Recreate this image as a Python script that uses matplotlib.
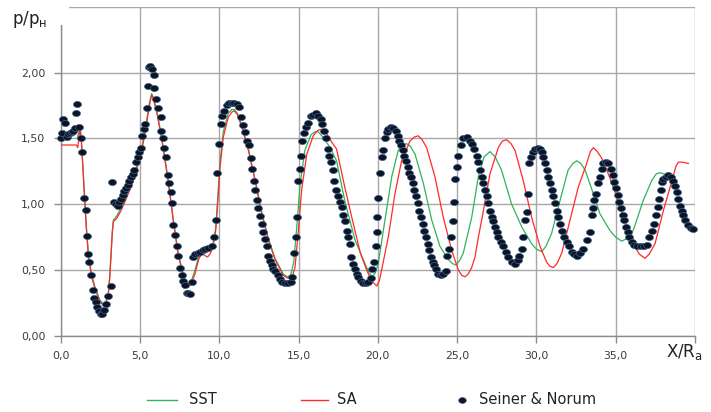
import matplotlib
matplotlib.use("Agg")
import matplotlib.pyplot as plt
from matplotlib.lines import Line2D
from matplotlib.patches import Rectangle
from matplotlib.markers import MarkerStyle
from matplotlib.transforms import Affine2D

# ---------------- data ----------------
SST_X = [1.05, 1.15, 1.22, 1.3, 1.4, 1.5, 1.62, 1.75, 1.95, 2.17, 2.45, 2.69, 2.85, 3.0, 3.1, 3.18,
         3.26, 3.33, 3.53, 3.8, 4.06, 4.4, 4.69, 5.11, 5.43, 5.6, 5.74, 5.85, 6.06, 6.37, 6.79,
         7.11, 7.42, 7.74, 7.9, 8.05, 8.2, 8.47, 8.7, 8.9, 9.1, 9.3, 9.53, 9.65, 9.78, 9.9, 10.05,
         10.26, 10.57, 10.8, 10.95, 11.15, 11.42, 11.84, 12.26, 12.68, 13.1, 13.52, 14.04, 14.3,
         14.5, 14.7, 14.9, 15.1, 15.4, 15.8, 16.05, 16.25, 16.6, 17.0, 17.4, 17.93, 18.56, 19.19,
         19.45, 19.66, 19.85, 20.03, 20.45, 20.88, 21.29, 21.55, 21.82, 22.05, 22.35, 22.87, 23.4,
         23.92, 24.45, 24.7, 24.9, 25.15, 25.39, 25.92, 26.34, 26.7, 27.07, 27.4, 27.8, 28.44,
         29.07, 29.7, 30.0, 30.33, 30.6, 30.96, 31.6, 32.0, 32.3, 32.54, 32.8, 33.07, 33.59, 34.0,
         34.64, 35.0, 35.38, 35.7, 36.1, 36.74, 37.27, 37.55, 37.79, 38.05, 38.32, 38.6]
SST_Y = [1.50, 1.55, 1.59, 1.51, 1.30, 1.09, 0.84, 0.63, 0.47, 0.37, 0.28, 0.24, 0.26, 0.31, 0.45, 0.62,
         0.80, 0.88, 0.91, 0.97, 1.04, 1.14, 1.24, 1.42, 1.64, 1.77, 1.84, 1.81, 1.71, 1.51, 1.18,
         0.88, 0.62, 0.47, 0.41, 0.38, 0.40, 0.50, 0.60, 0.64, 0.65, 0.66, 0.67, 0.72, 0.82, 1.03, 1.32,
         1.55, 1.69, 1.72, 1.72, 1.69, 1.60, 1.42, 1.19, 0.94, 0.74, 0.59, 0.47, 0.45,
         0.46, 0.56, 0.84, 1.15, 1.41, 1.53, 1.55, 1.55, 1.50, 1.43, 1.33, 1.02, 0.73, 0.55,
         0.48, 0.45, 0.48, 0.55, 0.88, 1.21, 1.41, 1.45, 1.46, 1.44, 1.38, 1.16, 0.88,
         0.68, 0.58, 0.55, 0.54, 0.57, 0.63, 0.90, 1.21, 1.36, 1.40, 1.36, 1.26, 1.00,
         0.83, 0.70, 0.66, 0.64, 0.68, 0.78, 1.08, 1.26, 1.31, 1.33, 1.31, 1.26, 1.08, 0.93,
         0.80, 0.75, 0.72, 0.74, 0.80, 1.03, 1.18, 1.23, 1.24, 1.23, 1.21, 1.20]

SA_X = [0.0, 0.5, 1.0, 1.08, 1.15, 1.22, 1.3, 1.4, 1.5, 1.62, 1.75, 1.95, 2.17, 2.45, 2.69, 2.85, 3.0,
        3.1, 3.18, 3.26, 3.33, 3.53, 3.8, 4.06, 4.4, 4.69, 5.11, 5.43, 5.6, 5.74, 5.85, 6.06, 6.37,
        6.79, 7.11, 7.42, 7.74, 7.9, 8.05, 8.2, 8.47, 8.7, 8.9, 9.1, 9.27, 9.4, 9.53, 9.65, 9.78,
        9.9, 10.05, 10.26, 10.57, 10.8, 10.95, 11.15, 11.42, 11.84, 12.26, 12.68, 13.1, 13.52,
        14.04, 14.3, 14.57, 14.78, 14.99, 15.2, 15.52, 15.93, 16.2, 16.46, 16.75, 17.05, 17.4,
        17.9, 18.4, 18.9, 19.3, 19.6, 19.93, 20.1, 20.24, 20.66, 21.08, 21.5, 22.03, 22.3, 22.55,
        22.8, 23.08, 23.6, 24.13, 24.66, 25.08, 25.3, 25.5, 25.7, 25.92, 26.13, 26.34, 26.55,
        27.07, 27.6, 27.85, 28.13, 28.4, 28.65, 29.17, 29.7, 30.23, 30.65, 30.85, 31.07, 31.3,
        31.6, 32.12, 32.64, 33.17, 33.4, 33.59, 33.85, 34.22, 34.85, 35.48, 36.1, 36.5, 36.85,
        37.1, 37.48, 38.0, 38.55, 38.8, 38.95, 39.2, 39.58]
SA_Y = [1.45, 1.45, 1.45, 1.43, 1.50, 1.58, 1.50, 1.28, 1.07, 0.82, 0.61, 0.45, 0.36, 0.27, 0.23, 0.25, 0.31,
        0.45, 0.61, 0.78, 0.87, 0.89, 0.95, 1.02, 1.12, 1.22, 1.40, 1.62, 1.75, 1.83, 1.80, 1.70, 1.50,
        1.17, 0.87, 0.61, 0.46, 0.40, 0.37, 0.39, 0.47, 0.58, 0.63, 0.61, 0.60, 0.62, 0.65, 0.71, 0.80,
        1.00, 1.28, 1.51, 1.66, 1.70, 1.71, 1.68, 1.59, 1.41, 1.18, 0.93, 0.73, 0.58,
        0.46, 0.44, 0.44, 0.52, 0.80, 1.11, 1.38, 1.52, 1.56, 1.57, 1.54, 1.48, 1.42,
        1.14, 0.88, 0.63, 0.50, 0.42, 0.38, 0.42, 0.50, 0.75, 1.08, 1.33, 1.48, 1.51, 1.52,
        1.49, 1.43, 1.21, 0.90, 0.65, 0.50, 0.46, 0.45, 0.47, 0.52, 0.60, 0.75, 0.88,
        1.23, 1.43, 1.48, 1.49, 1.46, 1.41, 1.18, 0.90, 0.68, 0.56, 0.53, 0.52, 0.55,
        0.63, 0.88, 1.13, 1.31, 1.40, 1.43, 1.40, 1.33, 1.13, 0.90, 0.70, 0.62, 0.59,
        0.62, 0.70, 0.95, 1.18, 1.29, 1.32, 1.32, 1.31]

EXP_X = [0.0, 0.07, 0.17, 0.30, 0.38, 0.47, 0.58, 0.70, 0.80, 0.90, 0.97, 1.04, 1.16, 1.28, 1.34,
         1.48, 1.57, 1.65, 1.73, 1.79, 1.90, 2.02, 2.12, 2.21, 2.31, 2.42, 2.52, 2.62, 2.76, 2.86,
         3.01, 3.16, 3.26, 3.37, 3.47, 3.60, 3.70, 3.81, 3.92, 4.02, 4.12, 4.23, 4.31, 4.44, 4.55,
         4.63, 4.75, 4.86, 4.96, 5.07, 5.15, 5.26, 5.32, 5.43, 5.49, 5.57, 5.66, 5.74, 5.87, 5.91,
         6.02, 6.16, 6.31, 6.33, 6.44, 6.54, 6.65, 6.75, 6.86, 6.94, 7.05, 7.11, 7.21, 7.32, 7.42,
         7.53, 7.64, 7.74, 7.84, 7.95, 8.05, 8.16, 8.27, 8.37, 8.47, 8.64, 8.80, 8.95, 9.10, 9.31,
         9.53, 9.69, 9.80, 9.88, 9.99, 10.11, 10.20, 10.32, 10.47, 10.64, 10.79, 10.95, 11.10,
         11.25, 11.37, 11.48, 11.63, 11.77, 11.88, 12.00, 12.09, 12.21, 12.26, 12.36, 12.47,
         12.57, 12.68, 12.78, 12.89, 12.99, 13.10, 13.20, 13.31, 13.41, 13.52, 13.69, 13.83,
         13.98, 14.15, 14.36, 14.53, 14.61, 14.72, 14.82, 14.88, 14.99, 15.09, 15.16, 15.24,
         15.37, 15.47, 15.62, 15.77, 15.93, 16.08, 16.25, 16.40, 16.50, 16.63, 16.73, 16.84,
         16.94, 17.05, 17.16, 17.26, 17.36, 17.47, 17.62, 17.72, 17.83, 17.93, 18.04, 18.14,
         18.25, 18.31, 18.46, 18.56, 18.67, 18.77, 18.94, 19.09, 19.24, 19.40, 19.57, 19.65,
         19.78, 19.87, 19.93, 19.97, 20.03, 20.14, 20.25, 20.35, 20.45, 20.56, 20.66, 20.81,
         20.98, 21.13, 21.25, 21.36, 21.46, 21.57, 21.67, 21.78, 21.88, 21.99, 22.09, 22.20,
         22.30, 22.41, 22.52, 22.62, 22.72, 22.83, 22.93, 23.04, 23.15, 23.25, 23.35, 23.46,
         23.56, 23.67, 23.82, 23.98, 24.13, 24.30, 24.34, 24.51, 24.60, 24.72, 24.80, 24.87,
         24.97, 25.08, 25.23, 25.39, 25.60, 25.81, 25.96, 26.08, 26.24, 26.34, 26.44, 26.55,
         26.65, 26.76, 26.87, 26.97, 27.07, 27.18, 27.28, 27.39, 27.50, 27.60, 27.77, 27.91,
         28.06, 28.23, 28.44, 28.65, 28.82, 28.92, 29.07, 29.17, 29.28, 29.39, 29.45, 29.55,
         29.66, 29.77, 29.91, 30.08, 30.23, 30.34, 30.44, 30.55, 30.65, 30.75, 30.86, 30.96,
         31.07, 31.17, 31.28, 31.38, 31.49, 31.63, 31.76, 31.91, 32.06, 32.23, 32.39, 32.54,
         32.75, 32.96, 33.17, 33.38, 33.49, 33.55, 33.63, 33.76, 33.91, 34.01, 34.12, 34.22,
         34.38, 34.53, 34.68, 34.81, 34.91, 35.02, 35.13, 35.23, 35.34, 35.44, 35.54, 35.65,
         35.76, 35.86, 36.01, 36.17, 36.36, 36.58, 36.78, 36.99, 37.12, 37.27, 37.41, 37.54,
         37.65, 37.73, 37.84, 37.90, 38.00, 38.17, 38.32, 38.49, 38.63, 38.74, 38.85, 38.95,
         39.06, 39.17, 39.27, 39.38, 39.53, 39.73, 39.90]
EXP_Y = [1.50, 1.54, 1.65, 1.62, 1.51, 1.53, 1.54, 1.55, 1.56, 1.58, 1.69, 1.76, 1.59, 1.50, 1.40,
         1.05, 0.96, 0.76, 0.62, 0.56, 0.46, 0.35, 0.29, 0.26, 0.22, 0.19, 0.17, 0.17, 0.20, 0.24,
         0.30, 0.38, 1.17, 1.02, 1.00, 0.99, 1.02, 1.04, 1.07, 1.10, 1.12, 1.15, 1.18, 1.21, 1.23,
         1.26, 1.32, 1.36, 1.40, 1.43, 1.52, 1.57, 1.61, 1.73, 1.90, 2.04, 2.05, 2.03, 1.98, 1.88,
         1.80, 1.73, 1.66, 1.56, 1.50, 1.43, 1.36, 1.22, 1.16, 1.09, 1.01, 0.84, 0.77, 0.68, 0.61,
         0.52, 0.46, 0.42, 0.39, 0.33, 0.33, 0.32, 0.41, 0.60, 0.62, 0.63, 0.64, 0.65, 0.66, 0.67,
         0.68, 0.75, 0.88, 1.24, 1.46, 1.61, 1.67, 1.71, 1.75, 1.77, 1.77, 1.77, 1.76,
         1.74, 1.66, 1.60, 1.55, 1.48, 1.45, 1.35, 1.27, 1.18, 1.11, 1.03, 0.97,
         0.91, 0.85, 0.79, 0.74, 0.68, 0.61, 0.57, 0.54, 0.51, 0.49, 0.46, 0.43,
         0.41, 0.40, 0.40, 0.41, 0.45, 0.63, 0.75, 0.90, 1.18, 1.27, 1.37, 1.48,
         1.54, 1.59, 1.62, 1.67, 1.68, 1.69, 1.67, 1.65, 1.61, 1.56, 1.50, 1.42,
         1.37, 1.32, 1.26, 1.18, 1.11, 1.06, 1.02, 0.98, 0.92, 0.87, 0.80, 0.75,
         0.70, 0.60, 0.55, 0.51, 0.47, 0.45, 0.42, 0.40, 0.40, 0.41, 0.44, 0.51,
         0.56, 0.68, 0.79, 0.90, 1.05, 1.24, 1.36, 1.41, 1.50, 1.55, 1.57, 1.59,
         1.58, 1.56, 1.52, 1.48, 1.45, 1.41, 1.37, 1.33, 1.28, 1.24, 1.21, 1.16,
         1.11, 1.06, 1.01, 0.95, 0.90, 0.85, 0.80, 0.75, 0.70, 0.65, 0.60, 0.56,
         0.54, 0.51, 0.47, 0.46, 0.47, 0.49, 0.61, 0.66, 0.75, 0.87, 1.02, 1.19,
         1.28, 1.37, 1.45, 1.50, 1.51, 1.48, 1.46, 1.42, 1.37, 1.32, 1.26, 1.21,
         1.16, 1.11, 1.06, 1.01, 0.95, 0.90, 0.87, 0.83, 0.79, 0.75, 0.71, 0.68,
         0.64, 0.60, 0.56, 0.55, 0.58, 0.61, 0.66, 0.75, 0.88, 0.94, 1.08, 1.31,
         1.36, 1.40, 1.42, 1.43, 1.42, 1.40, 1.36, 1.31, 1.26, 1.21, 1.16, 1.11,
         1.06, 1.01, 0.95, 0.90, 0.85, 0.80, 0.75, 0.71, 0.68, 0.64, 0.62, 0.61,
         0.63, 0.66, 0.73, 0.79, 0.92, 0.97, 1.03, 1.08, 1.16, 1.21, 1.27, 1.31,
         1.32, 1.31, 1.27, 1.22, 1.17, 1.12, 1.07, 1.02, 0.97, 0.92, 0.88, 0.83,
         0.79, 0.75, 0.71, 0.69, 0.68, 0.68, 0.68, 0.69, 0.75, 0.80, 0.85, 0.92,
         0.98, 1.04, 1.11, 1.17, 1.19, 1.21, 1.22, 1.21, 1.18, 1.14, 1.09, 1.04,
         0.99, 0.95, 0.92, 0.88, 0.84, 0.82, 0.81]

X_TICKS = [0, 5, 10, 15, 20, 25, 30, 35, 40]
X_TICK_LABELS = ["0,0", "5,0", "10,0", "15,0", "20,0", "25,0", "30,0", "35,0", ""]
Y_TICKS = [0.0, 0.5, 1.0, 1.5, 2.0, 2.5]
Y_TICK_LABELS = ["0,00", "0,50", "1,00", "1,50", "2,00", ""]

# ---------------- figure ----------------
W, H = 711, 412
fig = plt.figure(figsize=(W / 100, H / 100), dpi=100)
fig.patch.set_facecolor("white")

def fx(px):
    return px / W

def fy(py):
    return 1 - py / H

ax = fig.add_axes([fx(60.6), fy(336), fx(695) - fx(60.6), fy(6.7) - fy(336)])
ax.set_xlim(0, 40)
ax.set_ylim(0, 2.5)

grid_c = "#a8a8a8"
ax.set_xticks(X_TICKS)
ax.set_xticklabels(X_TICK_LABELS)
ax.set_yticks(Y_TICKS)
ax.set_yticklabels(Y_TICK_LABELS)
ax.grid(True, color=grid_c, linewidth=1.0, zorder=0)
ax.set_axisbelow(True)
for s in ["top", "right"]:
    ax.spines[s].set_visible(False)
for s in ["left", "bottom"]:
    ax.spines[s].set_color("#8c8c8c")
    ax.spines[s].set_linewidth(1.0)
ax.tick_params(axis="both", direction="out", length=5, width=1, color="#8c8c8c",
               labelsize=7.8, labelcolor="#3a3a3a", pad=6)

ax.plot(SST_X, SST_Y, color="#2fb35a", linewidth=0.9, zorder=3)
ax.plot(SA_X, SA_Y, color="#ff2a2a", linewidth=0.9, zorder=4)

marker = MarkerStyle("o", transform=Affine2D().scale(1.3, 1.0))
ax.plot(EXP_X, EXP_Y, linestyle="none", marker=marker, markersize=4.4,
        markerfacecolor="#0b1526", markeredgecolor="#3f6186", markeredgewidth=0.5,
        zorder=5, clip_on=False)

# white patch covering the top-left corner (behind the y label)
fig.patches.append(Rectangle((0, fy(25)), fx(69), 1 - fy(25), transform=fig.transFigure,
                             facecolor="white", edgecolor="none", zorder=2))

fig.text(fx(12), fy(19), "p/p$_\\mathregular{н}$", fontsize=12, color="#222222",
         va="center", ha="left", zorder=3)
fig.text(fx(666), fy(352), "X/R$_\\mathregular{a}$", fontsize=12, color="#222222",
         va="center", ha="left")

# legend
ly = fy(400)
fig.add_artist(Line2D([fx(147), fx(177)], [ly, ly], color="#2fb35a", linewidth=1.0,
                      transform=fig.transFigure))
fig.text(fx(189), ly, "SST", fontsize=10.5, color="#222222", va="center", ha="left")
fig.add_artist(Line2D([fx(301), fx(328)], [ly, ly], color="#ff2a2a", linewidth=1.0,
                      transform=fig.transFigure))
fig.text(fx(337), ly, "SA", fontsize=10.5, color="#222222", va="center", ha="left")
fig.add_artist(Line2D([fx(462)], [ly], linestyle="none", marker=marker, markersize=4.2,
                      markerfacecolor="#0b1526", markeredgecolor="#3f6186",
                      markeredgewidth=0.5, transform=fig.transFigure))
fig.text(fx(479), ly, "Seiner & Norum", fontsize=10.5, color="#222222", va="center", ha="left")

fig.savefig("out.png", dpi=100, facecolor="white")
